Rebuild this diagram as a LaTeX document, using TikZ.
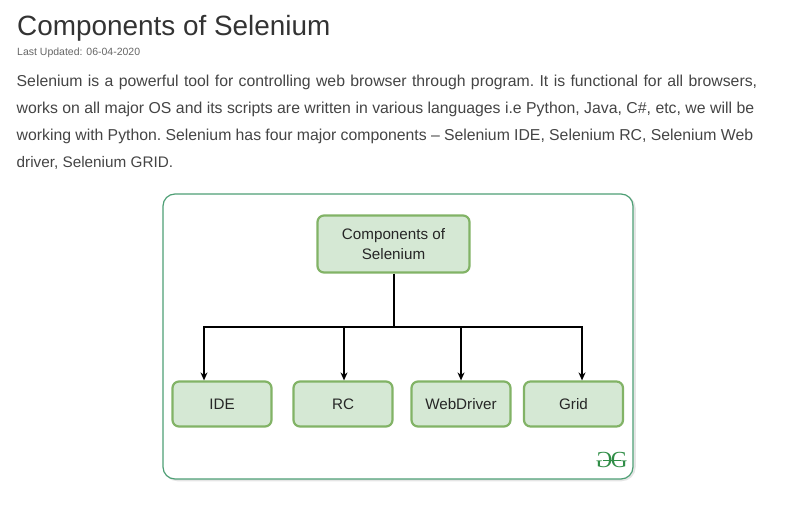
\documentclass[tikz,border=0pt]{standalone}
\usepackage{fontspec}
\setmainfont{Liberation Sans}
\newfontfamily\logofont{Liberation Serif}
\usetikzlibrary{arrows.meta}
\definecolor{boxfill}{HTML}{D5E8D4}
\definecolor{boxline}{HTML}{82B366}
\definecolor{frameline}{HTML}{4E9F75}
\definecolor{logogreen}{HTML}{2F8D46}
\definecolor{headtext}{HTML}{333333}
\definecolor{bodytext}{HTML}{444444}
\newcommand{\linea}[2]{\frenchspacing\makebox[#1pt][s]{#2}}
\tikzstyle{texto}=[inner sep=0pt,anchor=base west,text=bodytext,font=\fontsize{15.8}{18}\selectfont]
\tikzstyle{caja}=[draw=boxline,fill=boxfill,line width=2.2pt,rounded corners=6.5pt,inner sep=0pt,align=center,
  text=black!85,font=\fontsize{15.2}{19.5}\selectfont]
\tikzstyle{enlace}=[line width=1.5pt,black]
\tikzstyle{flecha}=[enlace,-{Stealth[length=8pt,width=7pt]}]
\begin{document}
\begin{tikzpicture}[x=1pt,y=-1pt]
    \useasboundingbox (0,0) rectangle (792,510);
    % heading and text above the figure
    \node [texto,text=headtext,font=\fontsize{27.9}{30}\selectfont] (title) at (17,36) {Components of Selenium};
    \node [texto,text=black!60,font=\fontsize{10.5}{12}\selectfont] (updated) at (17,56) {Last Updated: 06-04-2020};
    \node [texto] (line1) at (16.5,87) {\linea{740.5}{Selenium is a powerful tool for controlling web browser through program. It is functional for all browsers,}};
    \node [texto] (line2) at (16.5,114) {\linea{737.5}{works on all major OS and its scripts are written in various languages i.e Python, Java, C\#, etc, we will be}};
    \node [texto] (line3) at (16.5,141) {\linea{736.5}{working with Python. Selenium has four major components -- Selenium IDE, Selenium RC, Selenium Web}};
    \node [texto,font=\fontsize{15.3}{18}\selectfont] (line4) at (16.5,168) {driver, Selenium GRID.};
    % frame
    \draw [black!10,line width=2.5pt,rounded corners=13pt] (164.5,195.5) rectangle (634.5,480);
    \draw [frameline,fill=white,line width=1.2pt,rounded corners=12pt] (163,194) rectangle (633,479);
    % boxes
    \node [caja,minimum width=152pt,minimum height=57pt] (comp) at (393.5,244) {Components of\\Selenium};
    \node [caja,minimum width=99pt,minimum height=45pt] (ide) at (222,404) {IDE};
    \node [caja,minimum width=99pt,minimum height=45pt] (rc) at (343,404) {RC};
    \node [caja,minimum width=99pt,minimum height=45pt] (wd) at (461,404) {WebDriver};
    \node [caja,minimum width=99pt,minimum height=45pt] (grid) at (573.5,404) {Grid};
    % connectors
    \coordinate (bus) at (393.9,327);
    \draw [enlace] (comp.south -| bus) -- (bus);
    \draw [flecha] (bus) -| ([xshift=-18pt]ide.north);
    \draw [flecha] (bus) -| ([xshift=1pt]rc.north);
    \draw [flecha] (bus) -| (wd.north);
    \draw [flecha] (bus) -| ([xshift=8.5pt]grid.north);
    % logo
    \node [inner sep=0pt,text=logogreen,font=\logofont\fontsize{23}{23}\selectfont] (logo) at (611.5,460) {\reflectbox{G}\kern-1.5ptG};
    \draw [logogreen,line width=1pt] ([xshift=-9pt]logo.center) -- ([xshift=9pt]logo.center);
\end{tikzpicture}
\end{document}
